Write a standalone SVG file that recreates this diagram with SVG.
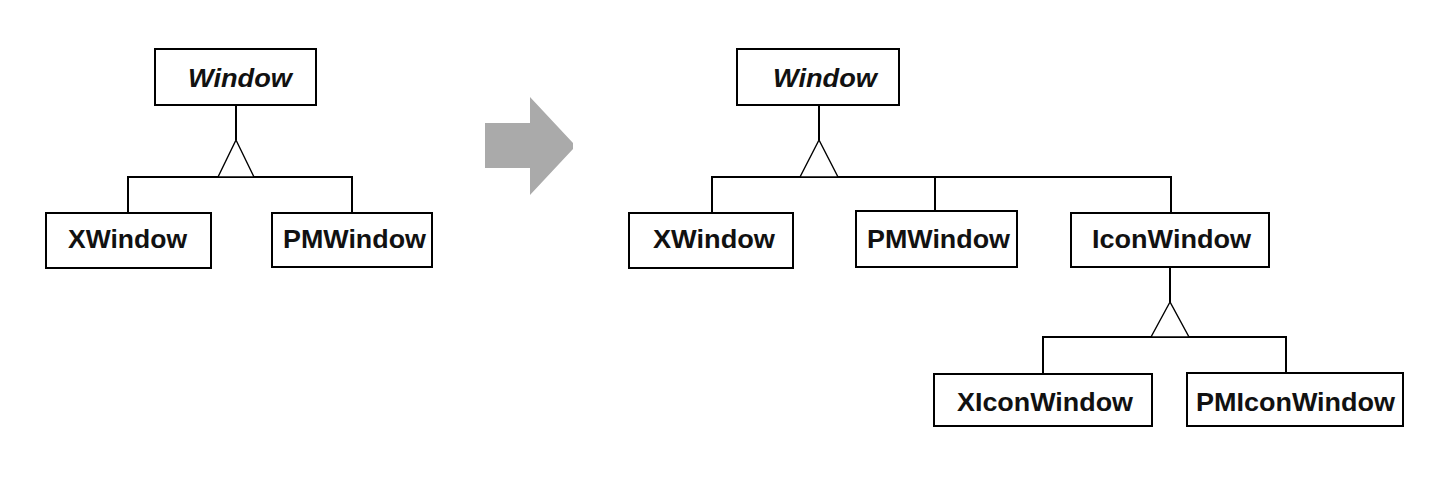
<svg xmlns="http://www.w3.org/2000/svg" width="1446" height="480" viewBox="0 0 1446 480">
<style>
.box{fill:#fff;stroke:#000;stroke-width:2}
.lbl{font-family:"Liberation Sans",Arial,sans-serif;font-size:25px;font-weight:bold;fill:#111}
.abs{font-style:italic}
.conn{fill:none;stroke:#000;stroke-width:2}
.tri{fill:#fff;stroke:#000;stroke-width:1.4}
</style>
<rect width="1446" height="480" fill="#fff"/>
<g id="connectors">
  <path class="conn" d="M236 105V140M128 213V177H352V213"/>
  <polygon class="tri" points="236,140 218,177 254,177"/>
  <path class="conn" d="M819 105V140M712 213V177H1171V213M935 177V211"/>
  <polygon class="tri" points="819,140 800,177 838,177"/>
  <path class="conn" d="M1170 267V302M1043 374V337H1286V374"/>
  <polygon class="tri" points="1170,302 1151,337 1189,337"/>
</g>
<g id="arrow">
  <polygon fill="#aaaaaa" points="485,123 530,123 530,97 573,143 573,149 530,195 530,168 485,168"/>
</g>
<g id="left-window"><rect class="box" x="155" y="49" width="161" height="56"/><text class="lbl abs" x="188" y="87" textLength="104" lengthAdjust="spacingAndGlyphs">Window</text></g>
<g id="left-xwindow"><rect class="box" x="46" y="213" width="165" height="55"/><text class="lbl" x="68" y="248" textLength="119" lengthAdjust="spacingAndGlyphs">XWindow</text></g>
<g id="left-pmwindow"><rect class="box" x="272" y="213" width="160" height="54"/><text class="lbl" x="283" y="248" textLength="143" lengthAdjust="spacingAndGlyphs">PMWindow</text></g>
<g id="right-window"><rect class="box" x="737" y="49" width="162" height="56"/><text class="lbl abs" x="773" y="87" textLength="104" lengthAdjust="spacingAndGlyphs">Window</text></g>
<g id="right-xwindow"><rect class="box" x="629" y="213" width="164" height="55"/><text class="lbl" x="653" y="248" textLength="122" lengthAdjust="spacingAndGlyphs">XWindow</text></g>
<g id="right-pmwindow"><rect class="box" x="856" y="211" width="161" height="56"/><text class="lbl" x="867" y="248" textLength="143" lengthAdjust="spacingAndGlyphs">PMWindow</text></g>
<g id="iconwindow"><rect class="box" x="1071" y="213" width="198" height="54"/><text class="lbl" x="1092" y="248" textLength="159" lengthAdjust="spacingAndGlyphs">IconWindow</text></g>
<g id="xiconwindow"><rect class="box" x="934" y="374" width="218" height="52"/><text class="lbl" x="957" y="411" textLength="176" lengthAdjust="spacingAndGlyphs">XIconWindow</text></g>
<g id="pmiconwindow"><rect class="box" x="1187" y="373" width="216" height="53"/><text class="lbl" x="1196" y="411" textLength="199" lengthAdjust="spacingAndGlyphs">PMIconWindow</text></g>
</svg>
